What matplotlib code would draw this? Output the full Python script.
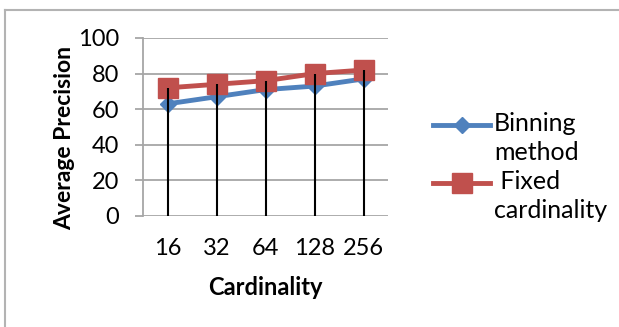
import matplotlib
matplotlib.use("Agg")
import matplotlib.pyplot as plt
from matplotlib.lines import Line2D
from matplotlib.transforms import ScaledTranslation

plt.rcParams['font.family'] = ['Lato', 'DejaVu Sans']

categories = ["16", "32", "64", "128", "256"]
binning = [63, 67, 71, 73, 77]
fixed = [72, 74, 76, 80, 82]
series_labels = ["Binning\nmethod", " Fixed\ncardinality"]
yticks = [0, 20, 40, 60, 80, 100]

W, H = 619, 327
fig = plt.figure(figsize=(W / 100, H / 100), dpi=100)
ax = fig.add_axes([143 / W, 1 - 216 / H, (388 - 143) / W, (216 - 38) / H])

x = list(range(len(categories)))
grid_c = "#a6a6a6"

ax.plot(x, binning, color="#4f81bd", lw=3.5, marker="D", ms=8,
        mec="#4f81bd", label=series_labels[0], zorder=3)
ax.plot(x, fixed, color="#c0504d", lw=3.5, marker="s", ms=14,
        mec="#c0504d", label=series_labels[1], zorder=4)
tops = [max(a, b) for a, b in zip(binning, fixed)]
ax.vlines(x, 0, tops, color="black", lw=1.5, zorder=5)

ax.set_xlim(-0.5, len(categories) - 0.5)
ax.set_ylim(0, 100)
ax.set_yticks(yticks)
ax.set_xticks(x)
ax.set_xticklabels(categories)
ax.yaxis.grid(True, color=grid_c, lw=1.3)
ax.set_axisbelow(True)
for s in ["top", "right", "bottom"]:
    ax.spines[s].set_visible(False)
ax.spines["left"].set_color(grid_c)
ax.spines["left"].set_linewidth(1.3)
ax.tick_params(axis="y", length=6, width=1.3, color=grid_c, pad=11, labelsize=17)
ax.tick_params(axis="x", length=0, pad=16, labelsize=17)
ax.set_ylabel("Average Precision", fontsize=16.5, fontweight="bold")
ax.yaxis.set_label_coords((75 - 143) / 245, (216 - 137.5) / 178)
ax.set_xlabel("Cardinality", fontsize=17, fontweight="bold", labelpad=12)

leg = fig.legend(loc="upper left", bbox_to_anchor=(433 / W, 1 - 98 / H),
                 frameon=False, fontsize=18, handlelength=2.28,
                 handletextpad=0.15, borderpad=0, borderaxespad=0,
                 labelspacing=0.25)
shift = ScaledTranslation(0, -0.14, fig.dpi_scale_trans)
for t in leg.texts:
    t.set_linespacing(1.3)
    t.set_transform(t.get_transform() + shift)

# outer chart border (top and left)
fig.add_artist(Line2D([5 / W, 1], [1 - 10 / H, 1 - 10 / H], color="#b3b3b3", lw=1.5))
fig.add_artist(Line2D([5 / W, 5 / W], [0, 1 - 10 / H], color="#b3b3b3", lw=1.5))

fig.savefig("out.png", dpi=100)
